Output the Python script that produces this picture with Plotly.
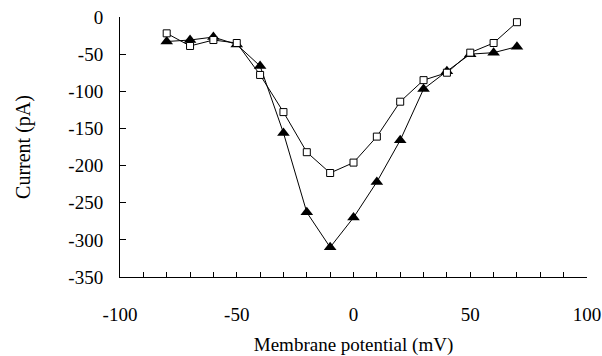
import plotly.graph_objects as go

voltage = [-80, -70, -60, -50, -40, -30, -20, -10, 0, 10, 20, 30, 40, 50, 60, 70]
current_triangle = [-33, -31, -27, -37, -66, -156, -263, -310, -270, -222, -166, -97, -73, -50, -48, -40]
current_square = [-22, -39, -31, -35, -78, -128, -182, -210, -196, -161, -114, -85, -75, -48, -35, -7]

y_tickvals = [0, -50, -100, -150, -200, -250, -300, -350]
y_ticktext = ["0", "-50", "-100", "-150", "-200", "-250", "-300", "-350"]
x_tickvals = [-100, -50, 0, 50, 100]
x_ticktext = ["-100", "-50", "0", "50", "100"]

font_family = "Liberation Serif"

fig = go.Figure()
fig.add_trace(go.Scatter(
    x=voltage, y=current_triangle, mode="lines+markers",
    line=dict(color="black", width=1),
    marker=dict(symbol="triangle-up", size=11, color="black", line=dict(color="black", width=0)),
    showlegend=False,
))
fig.add_trace(go.Scatter(
    x=voltage, y=current_square, mode="lines+markers",
    line=dict(color="black", width=1),
    marker=dict(symbol="square", size=7, color="white", line=dict(color="black", width=1)),
    showlegend=False,
))

fig.update_layout(
    width=602, height=356,
    margin=dict(l=120, r=15, t=17, b=79),
    paper_bgcolor="white", plot_bgcolor="white",
    font=dict(family=font_family, size=19, color="black"),
    xaxis=dict(
        range=[-100, 100], tickvals=x_tickvals, ticktext=x_ticktext,
        tickfont=dict(family=font_family, size=19, color="black"),
        showgrid=False, zeroline=False, showline=True, linecolor="black", linewidth=1,
        ticks="inside", ticklen=5, tickcolor="black", tickwidth=1,
        minor=dict(dtick=10, tick0=0, ticks="inside", ticklen=5, tickcolor="black", tickwidth=1, showgrid=False),
        ticklabelstandoff=20,
        automargin=False,
        title=dict(text="Membrane potential (mV)", font=dict(family=font_family, size=19), standoff=14),
    ),
    yaxis=dict(
        range=[-350, 0], tickvals=y_tickvals, ticktext=y_ticktext,
        tickfont=dict(family=font_family, size=19, color="black"),
        showgrid=False, zeroline=False, showline=True, linecolor="black", linewidth=1,
        ticks="inside", ticklen=6, tickcolor="black", tickwidth=1,
        ticklabelstandoff=12,
        automargin=False,
        title=dict(text="Current (pA)", font=dict(family=font_family, size=20), standoff=32),
    ),
)

fig.write_html("out.html")
